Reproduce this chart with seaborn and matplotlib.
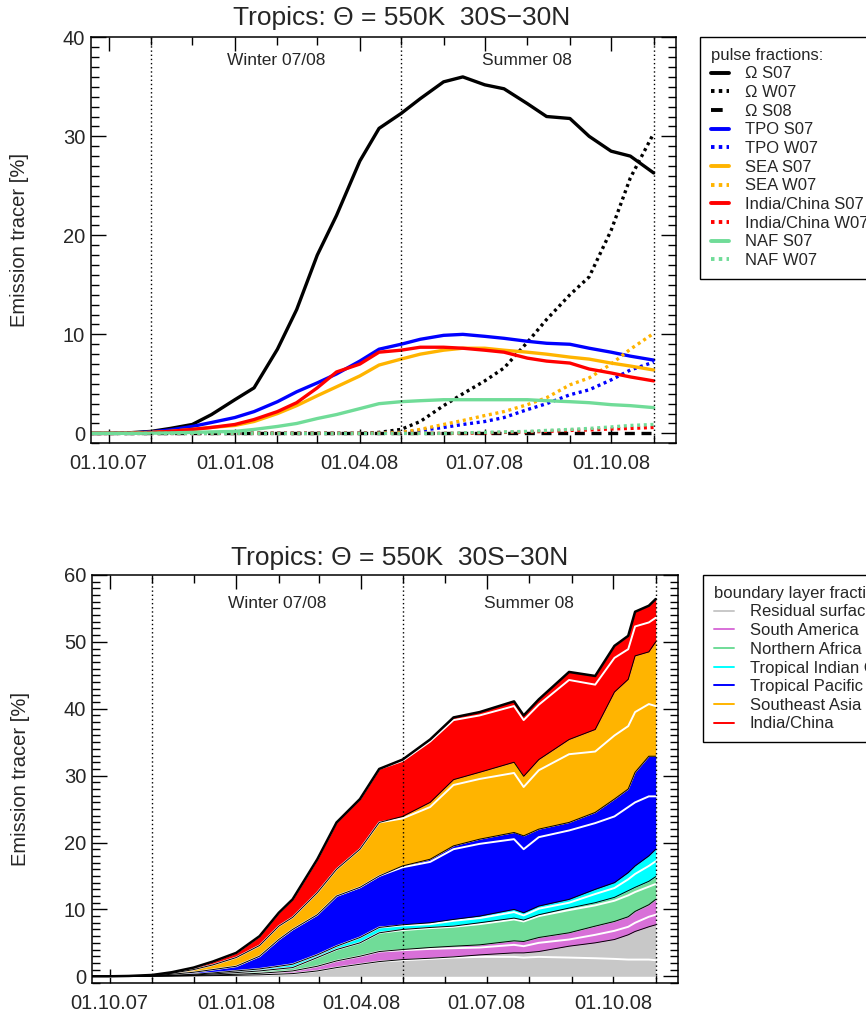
import pandas as pd
import matplotlib
matplotlib.use("Agg")
import matplotlib.pyplot as plt
import matplotlib.dates as mdates
from matplotlib.lines import Line2D
from matplotlib.ticker import MultipleLocator
import seaborn as sns

# -------------------------------
# 1. Data
# -------------------------------
dates_top = pd.to_datetime([
    "2007-09-18", "2007-10-01", "2007-10-15", "2007-11-01", "2007-11-15", "2007-12-01", "2007-12-15",
    "2008-01-01", "2008-01-15", "2008-02-01", "2008-02-15", "2008-03-01", "2008-03-15", "2008-04-01",
    "2008-04-15", "2008-05-01", "2008-05-15", "2008-06-01", "2008-06-15", "2008-07-01", "2008-07-15",
    "2008-08-01", "2008-08-15", "2008-09-01", "2008-09-15", "2008-10-01", "2008-10-15", "2008-11-01",
])

omega_s07 = [0, 0, 0.05, 0.2, 0.5, 0.9, 1.9, 3.4, 4.6, 8.5, 12.5, 18.0, 22.0, 27.5, 30.8, 32.3, 33.8,
             35.5, 36.0, 35.2, 34.8, 33.3, 32.0, 31.8, 30.0, 28.5, 28.0, 26.3]
omega_w07 = [0, 0, 0, 0, 0, 0, 0, 0, 0, 0, 0, 0, 0, 0, 0.1, 0.4, 1.2, 2.8, 4.0, 5.3, 6.6, 9.2, 11.5,
             14.0, 15.8, 20.5, 25.8, 30.3]
omega_s08 = [0] * 28
tpo_s07 = [0, 0, 0.02, 0.15, 0.35, 0.7, 1.1, 1.6, 2.2, 3.2, 4.2, 5.1, 6.0, 7.3, 8.5, 9.0, 9.5, 9.9,
           10.0, 9.8, 9.6, 9.3, 9.1, 9.0, 8.6, 8.2, 7.8, 7.4]
tpo_w07 = [0, 0, 0, 0, 0, 0, 0, 0, 0, 0, 0, 0, 0, 0, 0, 0.1, 0.3, 0.6, 0.9, 1.2, 1.6, 2.4, 3.0, 3.9,
           4.4, 5.4, 6.4, 7.2]
sea_s07 = [0, 0, 0.01, 0.1, 0.2, 0.4, 0.6, 0.8, 1.2, 2.0, 2.8, 3.8, 4.7, 5.8, 6.9, 7.5, 8.0, 8.4,
           8.6, 8.6, 8.4, 8.2, 8.0, 7.7, 7.5, 7.1, 6.8, 6.4]
sea_w07 = [0, 0, 0, 0, 0, 0, 0, 0, 0, 0, 0, 0, 0, 0, 0.02, 0.1, 0.4, 0.9, 1.3, 1.8, 2.2, 2.9, 3.6,
           4.9, 5.6, 7.0, 8.5, 10.1]
ind_s07 = [0, 0, 0.01, 0.1, 0.2, 0.4, 0.6, 0.9, 1.4, 2.2, 3.1, 4.6, 6.2, 7.0, 8.2, 8.4, 8.7, 8.7,
           8.6, 8.4, 8.2, 7.6, 7.3, 7.1, 6.5, 6.1, 5.7, 5.3]
ind_w07 = [0, 0, 0, 0, 0, 0, 0, 0, 0, 0, 0, 0, 0, 0, 0, 0, 0, 0, 0, 0.05, 0.1, 0.15, 0.2, 0.3,
           0.35, 0.45, 0.5, 0.6]
naf_s07 = [0, 0, 0, 0.02, 0.05, 0.1, 0.15, 0.2, 0.4, 0.7, 1.0, 1.5, 1.9, 2.5, 3.0, 3.2, 3.3, 3.4,
           3.4, 3.4, 3.4, 3.4, 3.3, 3.2, 3.1, 2.9, 2.8, 2.6]
naf_w07 = [0, 0, 0, 0, 0, 0, 0, 0, 0, 0, 0, 0, 0, 0, 0, 0, 0, 0, 0.05, 0.1, 0.15, 0.2, 0.3, 0.4,
           0.5, 0.65, 0.8, 0.9]

pulse_labels = ["Ω S07", "Ω W07", "Ω S08", "TPO S07", "TPO W07", "SEA S07", "SEA W07",
                "India/China S07", "India/China W07", "NAF S07", "NAF W07"]

# bottom panel: cumulative tops of each boundary layer region
dates_bl = pd.to_datetime([
    "2007-09-18", "2007-10-01", "2007-10-15", "2007-11-01", "2007-11-15", "2007-12-01", "2007-12-15",
    "2008-01-01", "2008-01-18", "2008-02-01", "2008-02-11", "2008-02-29", "2008-03-14", "2008-03-31",
    "2008-04-14", "2008-05-01", "2008-05-21", "2008-06-07", "2008-06-26", "2008-07-21", "2008-07-28",
    "2008-08-08", "2008-08-30", "2008-09-18", "2008-10-02", "2008-10-12", "2008-10-17", "2008-10-27",
    "2008-11-01",
])

top_residual = [0, 0, 0, 0.01, 0.03, 0.06, 0.1, 0.15, 0.22, 0.32, 0.4, 0.8, 1.3, 1.8, 2.2, 2.5, 2.7,
                2.9, 3.2, 3.5, 3.5, 3.7, 4.5, 5.0, 5.5, 6.2, 6.7, 7.4, 7.7]
top_samerica = [0, 0, 0, 0.02, 0.06, 0.12, 0.2, 0.3, 0.45, 0.65, 0.8, 1.5, 2.3, 3.0, 3.7, 4.0, 4.3,
                4.5, 4.7, 5.3, 5.2, 5.8, 6.5, 7.5, 8.2, 8.9, 9.7, 10.7, 11.5]
top_nafrica = [0, 0, 0.01, 0.04, 0.1, 0.2, 0.35, 0.55, 0.8, 1.1, 1.3, 2.8, 4.0, 5.0, 6.5, 7.0, 7.3,
               7.5, 8.0, 8.7, 8.4, 9.2, 10.2, 11.0, 11.8, 12.8, 13.3, 14.2, 14.9]
top_tindian = [0, 0, 0.01, 0.05, 0.15, 0.3, 0.5, 0.8, 1.1, 1.5, 1.8, 3.2, 4.5, 5.8, 7.3, 7.7, 8.0,
               8.5, 9.0, 10.0, 9.5, 10.5, 11.5, 13.0, 14.0, 15.5, 16.5, 18.0, 19.0]
top_tpacific = [0, 0, 0.02, 0.1, 0.3, 0.6, 1.0, 1.5, 3.0, 5.5, 7.0, 9.2, 12.0, 13.3, 15.0, 16.5,
                17.5, 19.5, 20.5, 21.5, 21.0, 22.0, 23.0, 24.5, 26.5, 28.0, 30.5, 32.9, 32.9]
top_seasia = [0, 0, 0.03, 0.15, 0.45, 1.0, 1.7, 2.8, 4.6, 7.5, 8.8, 12.5, 16.0, 19.0, 23.0, 23.9,
              26.0, 29.4, 30.5, 32.0, 29.9, 32.4, 35.4, 36.9, 42.5, 44.4, 47.9, 48.5, 50.0]
top_indchina = [0, 0, 0.05, 0.2, 0.6, 1.3, 2.2, 3.5, 6.0, 9.5, 11.5, 17.5, 23.0, 26.5, 31.0, 32.4,
                35.4, 38.7, 39.5, 41.1, 39.0, 41.4, 45.5, 44.9, 49.4, 50.9, 54.5, 55.4, 56.4]

# white lines: S07 part inside each region band
white_residual = [0, 0, 0, 0.01, 0.03, 0.06, 0.1, 0.15, 0.22, 0.32, 0.4, 0.8, 1.3, 1.8, 2.2, 2.4,
                  2.6, 2.8, 2.9, 2.9, 2.8, 2.9, 2.8, 2.7, 2.6, 2.5, 2.5, 2.5, 2.4]
white_samerica = [0, 0, 0, 0.02, 0.06, 0.12, 0.2, 0.3, 0.45, 0.65, 0.8, 1.5, 2.3, 3.0, 3.7, 3.9,
                  4.1, 4.2, 4.3, 4.7, 4.5, 5.0, 5.5, 6.2, 6.8, 7.4, 8.0, 8.9, 9.2]
white_nafrica = [0, 0, 0.01, 0.04, 0.1, 0.2, 0.35, 0.55, 0.8, 1.1, 1.3, 2.8, 4.0, 5.0, 6.5, 6.9,
                 7.2, 7.4, 7.8, 8.5, 8.2, 9.0, 9.9, 10.6, 11.3, 12.1, 12.6, 13.4, 13.8]
white_tindian = [0, 0, 0.01, 0.05, 0.15, 0.3, 0.5, 0.8, 1.1, 1.5, 1.8, 3.2, 4.5, 5.8, 7.3, 7.6,
                 7.8, 8.3, 8.7, 9.6, 9.1, 10.1, 11.0, 12.3, 13.2, 14.5, 15.3, 16.5, 17.2]
white_tpacific = [0, 0, 0.02, 0.1, 0.3, 0.6, 1.0, 1.5, 3.0, 5.5, 7.0, 9.2, 12.0, 13.3, 15.0, 16.3,
                  17.1, 19.0, 19.8, 20.5, 19.0, 20.8, 21.8, 22.9, 23.9, 25.3, 26.0, 26.9, 26.9]
white_seasia = [0, 0, 0.03, 0.15, 0.45, 1.0, 1.7, 2.8, 4.6, 7.5, 8.8, 12.5, 16.0, 19.0, 23.0, 23.6,
                25.3, 28.6, 29.5, 30.4, 28.3, 30.8, 33.2, 33.6, 36.0, 37.4, 39.5, 40.7, 40.4]
white_indchina = [0, 0, 0.05, 0.2, 0.6, 1.3, 2.2, 3.5, 6.0, 9.5, 11.5, 17.5, 23.0, 26.5, 31.0, 32.2,
                  35.1, 38.3, 39.0, 40.4, 38.3, 40.6, 44.3, 43.6, 47.6, 48.9, 52.3, 52.9, 53.6]

region_labels = ["Residual surface", "South America", "Northern Africa", "Tropical Indian Ocean",
                 "Tropical Pacific", "Southeast Asia", "India/China"]

season_lines = pd.to_datetime(["2007-11-01", "2008-05-01", "2008-11-01"])
winter_mid = pd.Timestamp("2008-01-31")
summer_mid = pd.Timestamp("2008-08-01")

# -------------------------------
# 2. Style
# -------------------------------
sns.set_style("ticks")
plt.rcParams["font.family"] = ["Liberation Sans", "DejaVu Sans"]

BLACK, BLUE, ORANGE, RED, GREEN = "black", "#0000ff", "#ffb400", "#ff0000", "#70dc98"
PURPLE, GRAY, CYAN = "#d870d8", "#c8c8c8", "#00ffff"
DOT = (0, (0.9, 1.1))
DASH = (0, (3, 2))

title = "Tropics: Θ = 550K  30S\u221230N"

fig = plt.figure(figsize=(8.66, 10.16), dpi=100)
ax1 = fig.add_axes([0.1047, 0.5637, 0.6755, 0.3996])
ax2 = fig.add_axes([0.1059, 0.0325, 0.6767, 0.4016])


def style_axes(ax, ymax, text_y):
    ax.set_xlim(pd.Timestamp("2007-09-18"), pd.Timestamp("2008-11-17"))
    ax.set_ylim(-1, ymax)
    ax.xaxis.set_major_locator(mdates.MonthLocator(bymonth=[1, 4, 7, 10]))
    ax.xaxis.set_minor_locator(mdates.MonthLocator())
    ax.xaxis.set_major_formatter(mdates.DateFormatter("%d.%m.%y"))
    ax.yaxis.set_major_locator(MultipleLocator(10))
    ax.yaxis.set_minor_locator(MultipleLocator(1))
    ax.tick_params(which="both", direction="in", top=True, right=True, labelsize=14.5,
                   width=1, color="black")
    ax.tick_params(axis="y", which="major", length=11, pad=4)
    ax.tick_params(axis="y", which="minor", length=5.5)
    ax.tick_params(axis="x", which="major", length=10, pad=8)
    ax.tick_params(axis="x", which="minor", length=5.5)
    for s in ax.spines.values():
        s.set_linewidth(1.1)
        s.set_color("black")
    ax.set_xlabel("")
    ax.set_ylabel("Emission tracer [%]", fontsize=14.5)
    ax.yaxis.set_label_coords(-0.105, 0.5)
    for d in season_lines:
        ax.axvline(d, color="black", lw=1, ls=(0, (1, 2)), zorder=5)
    ax.text(winter_mid, text_y, "Winter 07/08", transform=ax.get_xaxis_transform(),
            ha="center", va="center", fontsize=12.5)
    ax.text(summer_mid, text_y, "Summer 08", transform=ax.get_xaxis_transform(),
            ha="center", va="center", fontsize=12.5)


# -------------------------------
# 3. Top panel: pulse fractions
# -------------------------------
pulse_series = [
    (omega_s07, BLACK, "-"), (omega_w07, BLACK, DOT), (omega_s08, BLACK, DASH),
    (tpo_s07, BLUE, "-"), (tpo_w07, BLUE, DOT),
    (sea_s07, ORANGE, "-"), (sea_w07, ORANGE, DOT),
    (ind_s07, RED, "-"), (ind_w07, RED, DOT),
    (naf_s07, GREEN, "-"), (naf_w07, GREEN, DOT),
]
for vals, col, ls in pulse_series:
    sns.lineplot(x=dates_top, y=vals, ax=ax1, color=col, linewidth=2.4, linestyle=ls)

style_axes(ax1, 40, 0.9416)
fig.text(402 / 866, 1 - 25 / 1016, title, ha="center", va="baseline", fontsize=19)

handles = [Line2D([], [], color=c, lw=2.8, linestyle=ls) for _, c, ls in pulse_series]
leg1 = fig.legend(handles, pulse_labels, loc="upper left",
                  bbox_to_anchor=(700 / 866, 1 - 37 / 1016), bbox_transform=fig.transFigure,
                  title="pulse fractions:", fontsize=12, title_fontsize=12, alignment="left",
                  frameon=True, fancybox=False, edgecolor="black", framealpha=1,
                  borderpad=0.65, labelspacing=0.22, handlelength=1.1, handletextpad=0.95,
                  borderaxespad=0)
leg1.get_frame().set_linewidth(1.0)

# -------------------------------
# 4. Bottom panel: stacked boundary layer fractions
# -------------------------------
tops = [top_residual, top_samerica, top_nafrica, top_tindian, top_tpacific, top_seasia, top_indchina]
whites = [white_residual, white_samerica, white_nafrica, white_tindian, white_tpacific,
          white_seasia, white_indchina]
colors = [GRAY, PURPLE, GREEN, CYAN, BLUE, ORANGE, RED]

lower = [0] * len(dates_bl)
for top, col in zip(tops, colors):
    ax2.fill_between(dates_bl, lower, top, color=col, lw=0, zorder=1)
    lower = top

for w in whites:
    sns.lineplot(x=dates_bl, y=w, ax=ax2, color="white", linewidth=1.4, zorder=2)

for top in tops[:-1]:
    sns.lineplot(x=dates_bl, y=top, ax=ax2, color="black", linewidth=0.7, zorder=3)
sns.lineplot(x=dates_bl, y=top_indchina, ax=ax2, color="black", linewidth=1.8, zorder=4)

style_axes(ax2, 60, 0.931)
fig.text(400 / 866, 1 - 565 / 1016, title, ha="center", va="baseline", fontsize=19)

handles2 = [Line2D([], [], color=c, lw=1.4) for c in colors]
leg2 = fig.legend(handles2, region_labels, loc="upper left",
                  bbox_to_anchor=(703 / 866, 1 - 575 / 1016), bbox_transform=fig.transFigure,
                  title="boundary layer fractions:", fontsize=12, title_fontsize=12,
                  alignment="left", frameon=True, fancybox=False, edgecolor="black",
                  framealpha=1, borderpad=0.65, labelspacing=0.22, handlelength=1.2,
                  handletextpad=0.95, borderaxespad=0)
leg2.get_frame().set_linewidth(1.0)

plt.savefig("out.png", dpi=100)
